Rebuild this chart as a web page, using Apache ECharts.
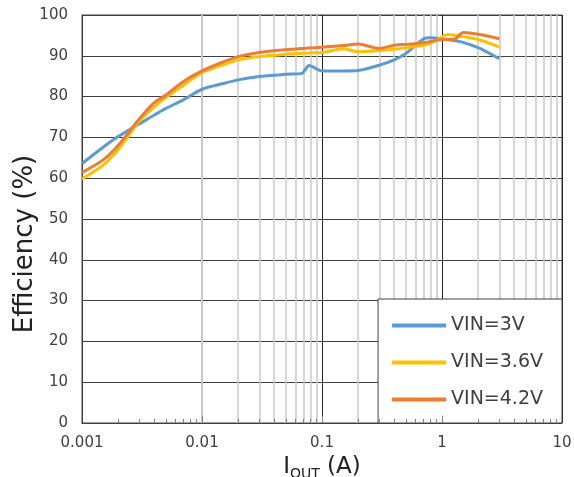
<!DOCTYPE html>
<html>
<head>
<meta charset="utf-8">
<script src="https://cdn.jsdelivr.net/npm/echarts@6/dist/echarts.min.js"></script>
<style>
  html, body { margin: 0; padding: 0; background: #fff; }
  #main { width: 574px; height: 477px; }
</style>
</head>
<body>
<div id="main"></div>
<script>
// output current (A)
var current = [0.001, 0.0015, 0.002, 0.003, 0.004, 0.005, 0.007, 0.01, 0.015, 0.02, 0.03, 0.05,
  0.068, 0.078, 0.1, 0.15, 0.2, 0.3, 0.4, 0.5, 0.7, 0.8, 1, 1.1, 1.3, 1.5, 2, 3];
// efficiency (%)
var eff3V = [63.6, 67.6, 70.2, 73.3, 75.5, 77.1, 79.2, 81.8, 83.2, 84.1, 84.9, 85.5,
  85.7, 87.6, 86.3, 86.3, 86.4, 87.7, 89.0, 90.6, 94.1, 94.4, 94.2, 94.0, 93.7, 93.3, 92.0, 89.3];
var eff36V = [59.8, 63.2, 67.0, 74.0, 77.5, 79.8, 82.8, 85.9, 87.8, 89.0, 89.8, 90.4,
  90.6, 90.7, 90.8, 91.7, 91.0, 91.3, 91.6, 92.0, 92.6, 93.1, 94.6, 95.2, 95.0, 94.7, 94.0, 92.2];
var eff42V = [61.4, 64.5, 68.0, 74.5, 78.5, 80.4, 83.7, 86.3, 88.5, 89.8, 90.8, 91.5,
  91.8, 91.9, 92.1, 92.5, 92.9, 91.8, 92.6, 92.8, 93.2, 93.5, 94.0, 94.0, 94.2, 95.7, 95.3, 94.2];
var seriesNames = ['VIN=3V', 'VIN=3.6V', 'VIN=4.2V'];
var seriesColors = ['#5B9BD5', '#FFC000', '#ED7D31'];

// minor gridlines at 2..9 of every decade
var decades = [0.001, 0.01, 0.1, 1];
var minorLines = [];
decades.forEach(function (d) {
  for (var k = 2; k <= 9; k++) minorLines.push(+(k * d).toPrecision(2));
});

var chart = echarts.init(document.getElementById('main'));

function pairs(vals) {
  return current.map(function (c, i) { return [c, vals[i]]; });
}

// little tick marks along the bottom border (seen through the legend box)
var tickMarks = [];
minorLines.forEach(function (v) {
  tickMarks.push([{ coord: [v, 0] }, { coord: [v, 1] }]);
});
[0.01, 0.1, 1].forEach(function (v) {
  tickMarks.push([{ coord: [v, 0] }, { coord: [v, 1.8] }]);
});

var font = 'DejaVu Sans';

var option = {
  animation: false,
  backgroundColor: '#fff',
  grid: {
    left: 82,
    right: 12,
    top: 15,
    bottom: 54,
    outerBoundsMode: 'none',
    containLabel: false,
    show: true,
    borderColor: '#404040',
    borderWidth: 1
  },
  legend: {
    data: seriesNames,
    orient: 'vertical',
    right: 12,
    bottom: 54,
    icon: 'rect',
    itemWidth: 54,
    itemHeight: 4,
    itemGap: 14,
    padding: [15, 19, 12, 14],
    backgroundColor: '#fff',
    borderColor: '#404040',
    borderWidth: 1,
    borderRadius: 0,
    z: 4,
    textStyle: {
      fontFamily: font,
      fontSize: 19,
      color: '#404040',
      lineHeight: 23
    }
  },
  xAxis: {
    type: 'log',
    logBase: 10,
    min: 0.001,
    max: 10,
    name: '{i|I}{sub|OUT}{n| (A)}',
    nameLocation: 'middle',
    nameGap: 30,
    nameMoveOverlap: false,
    nameTextStyle: {
      fontFamily: font,
      color: '#222',
      rich: {
        i: { fontFamily: font, fontSize: 23, color: '#222' },
        sub: { fontFamily: font, fontSize: 14, color: '#222', padding: [14, 0, 0, 0] },
        n: { fontFamily: font, fontSize: 23, color: '#222' }
      }
    },
    axisLine: { show: true, lineStyle: { color: '#404040', width: 1 } },
    axisTick: { show: false },
    axisLabel: {
      fontFamily: font,
      fontSize: 15,
      color: '#404040',
      margin: 13,
      formatter: function (v) { return String(+(+v).toPrecision(3)); }
    },
    splitLine: { show: true, lineStyle: { color: '#262626', width: 1 } }
  },
  yAxis: {
    type: 'value',
    min: 0,
    max: 100,
    interval: 10,
    name: 'Efficiency (%)',
    nameLocation: 'middle',
    nameGap: 44,
    nameMoveOverlap: false,
    nameTextStyle: {
      fontFamily: font,
      fontSize: 26,
      color: '#222',
      padding: [0, 50, 0, 0]
    },
    axisLine: { show: true, lineStyle: { color: '#404040', width: 1 } },
    axisTick: { show: false },
    axisLabel: {
      fontFamily: font,
      fontSize: 15,
      color: '#404040',
      margin: 14
    },
    splitLine: { show: true, lineStyle: { color: '#404040', width: 1 } }
  },
  series: [
    {
      name: 'minor-grid',
      type: 'line',
      data: [],
      z: 1,
      silent: true,
      markLine: {
        silent: true,
        z: 1,
        symbol: 'none',
        label: { show: false },
        lineStyle: { color: '#c8c8c8', width: 1.5, type: 'solid' },
        data: minorLines.map(function (v) { return { xAxis: v }; })
      }
    },
    {
      name: seriesNames[0],
      type: 'line',
      data: pairs(eff3V),
      smooth: 0.25,
      showSymbol: false,
      color: seriesColors[0],
      lineStyle: { width: 3, color: seriesColors[0] },
      z: 3
    },
    {
      name: seriesNames[1],
      type: 'line',
      data: pairs(eff36V),
      smooth: 0.25,
      showSymbol: false,
      color: seriesColors[1],
      lineStyle: { width: 3, color: seriesColors[1] },
      z: 3
    },
    {
      name: seriesNames[2],
      type: 'line',
      data: pairs(eff42V),
      smooth: 0.25,
      showSymbol: false,
      color: seriesColors[2],
      lineStyle: { width: 3, color: seriesColors[2] },
      z: 3
    },
    {
      name: 'border-ticks',
      type: 'line',
      data: [],
      z: 6,
      silent: true,
      markLine: {
        silent: true,
        z: 6,
        symbol: 'none',
        label: { show: false },
        lineStyle: { color: '#808080', width: 1, type: 'solid' },
        data: tickMarks
      }
    }
  ]
};

chart.setOption(option);
</script>
</body>
</html>
